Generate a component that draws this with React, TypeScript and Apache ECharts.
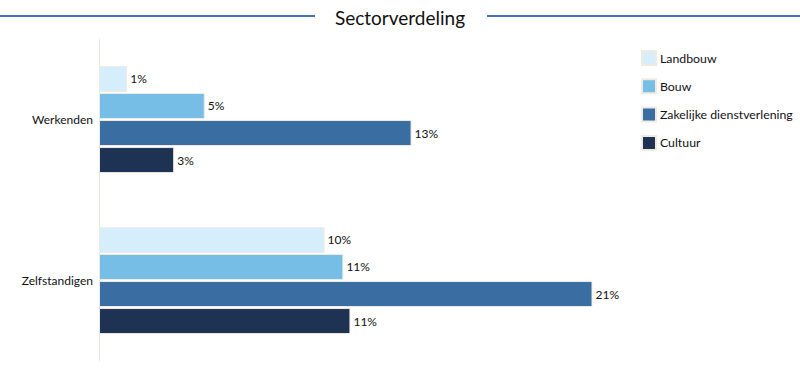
import React, { useEffect, useRef } from "react";
import * as echarts from "echarts";

const categories = ["Werkenden", "Zelfstandigen"];
const seriesNames = ["Landbouw", "Bouw", "Zakelijke dienstverlening", "Cultuur"];
const landbouw = [1.2, 9.6];
const bouw = [4.5, 10.4];
const zakelijk = [13.3, 21.0];
const cultuur = [3.2, 10.7];
const landbouwLabels = ["1%", "10%"];
const bouwLabels = ["5%", "11%"];
const zakelijkLabels = ["13%", "21%"];
const cultuurLabels = ["3%", "11%"];
const colors = ["#D6EEFB", "#76BEE6", "#3A6EA2", "#1E3254"];

const FONT = "Lato, 'Open Sans', sans-serif";

export default function App() {
  const ref = useRef<HTMLDivElement>(null);
  useEffect(() => {
    if (!ref.current) return;
    const chart = echarts.init(ref.current, undefined, { renderer: "svg" });
    const values = [landbouw, bouw, zakelijk, cultuur];
    const labels = [landbouwLabels, bouwLabels, zakelijkLabels, cultuurLabels];
    chart.setOption({
      animation: false,
      backgroundColor: "#ffffff",
      textStyle: { fontFamily: FONT },
      title: {
        text: "Sectorverdeling",
        left: "center",
        top: 3,
        textStyle: { fontFamily: FONT, fontSize: 19, fontWeight: "normal", color: "#111" },
      },
      graphic: [
        { type: "line", shape: { x1: 0, y1: 16, x2: 315, y2: 16 }, style: { stroke: "#4472C4", lineWidth: 2 } },
        { type: "line", shape: { x1: 487, y1: 16, x2: 800, y2: 16 }, style: { stroke: "#4472C4", lineWidth: 2 } },
      ],
      legend: {
        orient: "vertical",
        left: 641,
        top: 50,
        padding: 0,
        itemWidth: 14,
        itemHeight: 14,
        itemGap: 12.3,
        icon: "rect",
        data: seriesNames,
        textStyle: { fontFamily: FONT, fontSize: 12.3, color: "#111", padding: [0, 0, 0, -1] },
      },
      grid: { left: 99, top: 39, width: 587.5, height: 322 },
      xAxis: {
        type: "value",
        min: 0,
        max: 25,
        show: false,
      },
      yAxis: {
        type: "category",
        data: categories,
        inverse: true,
        axisLine: { show: true, lineStyle: { color: "#EBE6DA", width: 1 } },
        axisTick: { show: false },
        axisLabel: { fontFamily: FONT, fontSize: 12, color: "#111", margin: 6 },
      },
      series: seriesNames.map((name, i) => ({
        name,
        type: "bar",
        barWidth: 26,
        barGap: "4%",
        itemStyle: { color: colors[i], borderColor: "#EFEBE2", borderWidth: 1 },
        label: {
          show: true,
          position: "right",
          distance: 3,
          fontFamily: FONT,
          fontSize: 12,
          color: "#111",
          formatter: (p: any) => labels[i][p.dataIndex],
        },
        data: values[i],
      })),
    });
    return () => chart.dispose();
  }, []);
  return (
    <div
      ref={ref}
      style={{ position: "absolute", left: 0, top: 0, width: 800, height: 370 }}
    />
  );
}
